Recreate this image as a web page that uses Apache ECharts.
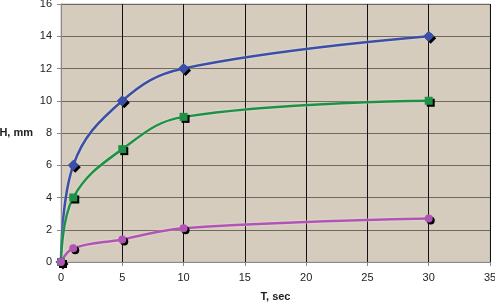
<!DOCTYPE html>
<html><head><meta charset="utf-8">
<script src="https://cdn.jsdelivr.net/npm/echarts@6/dist/echarts.min.js"></script>
<style>html,body{margin:0;padding:0;background:#fff}#c{width:495px;height:304px}</style>
</head><body><div id="c"></div>
<script>
const tValues = [0, 1, 5, 10, 30];
const seriesBlue = [0, 6, 10, 12, 14];
const seriesGreen = [0, 4, 7, 9, 10];
const seriesMagenta = [0, 0.85, 1.4, 2.1, 2.7];
const xTicks = [0, 5, 10, 15, 20, 25, 30, 35];
const yTicks = [0, 2, 4, 6, 8, 10, 12, 14, 16];

const pair = arr => tValues.map((t, i) => [t, arr[i]]);
const chart = echarts.init(document.getElementById('c'), null, {renderer: 'canvas'});
function mk(name, data, color, symbol, size) {
  return {
    name, type: 'line', data: pair(data), smooth: 0.4,
    symbol, symbolSize: size,
    lineStyle: {color, width: 2.5, shadowColor: 'rgba(255,255,255,0.6)', shadowBlur: 2},
    itemStyle: {color, shadowColor: '#000', shadowOffsetX: 2, shadowOffsetY: 2, shadowBlur: 0},
    z: 3
  };
}
chart.setOption({
  animation: false,
  grid: {left: 61, right: 5, top: 4, bottom: 42, outerBoundsMode: 'none', containLabel: false,
         show: true, backgroundColor: '#d5ccbd', borderColor: '#b8b8b8', borderWidth: 1},
  xAxis: {
    type: 'value', min: 0, max: 35, interval: 5,
    name: 'T, sec', nameLocation: 'middle', nameGap: 29,
    nameTextStyle: {fontFamily: 'Liberation Sans', fontSize: 11, fontWeight: 'bold', color: '#222'},
    axisLine: {show: true, lineStyle: {color: '#888', width: 1}},
    axisTick: {show: true, inside: false, length: 4, lineStyle: {color: '#888'}},
    axisLabel: {fontFamily: 'Liberation Sans', fontSize: 11, color: '#222', margin: 10},
    splitLine: {show: true, lineStyle: {color: '#111', width: 1}}
  },
  yAxis: {
    type: 'value', min: 0, max: 16, interval: 2,
    name: 'H, mm', nameLocation: 'middle', nameRotate: 0, nameGap: 28,
    nameTextStyle: {fontFamily: 'Liberation Sans', fontSize: 11, fontWeight: 'bold', color: '#222', align: 'right'},
    axisLine: {show: true, lineStyle: {color: '#888', width: 1}},
    axisTick: {show: true, length: 4, lineStyle: {color: '#888'}},
    axisLabel: {fontFamily: 'Liberation Sans', fontSize: 11, color: '#222', margin: 9},
    splitLine: {show: true, lineStyle: {color: '#70685c', width: 1}}
  },
  series: [
    mk('blue', seriesBlue, '#3a4fa5', 'diamond', 11),
    mk('green', seriesGreen, '#1f9146', 'rect', 8),
    mk('magenta', seriesMagenta, '#b055b4', 'circle', 8)
  ]
});
</script></body></html>
